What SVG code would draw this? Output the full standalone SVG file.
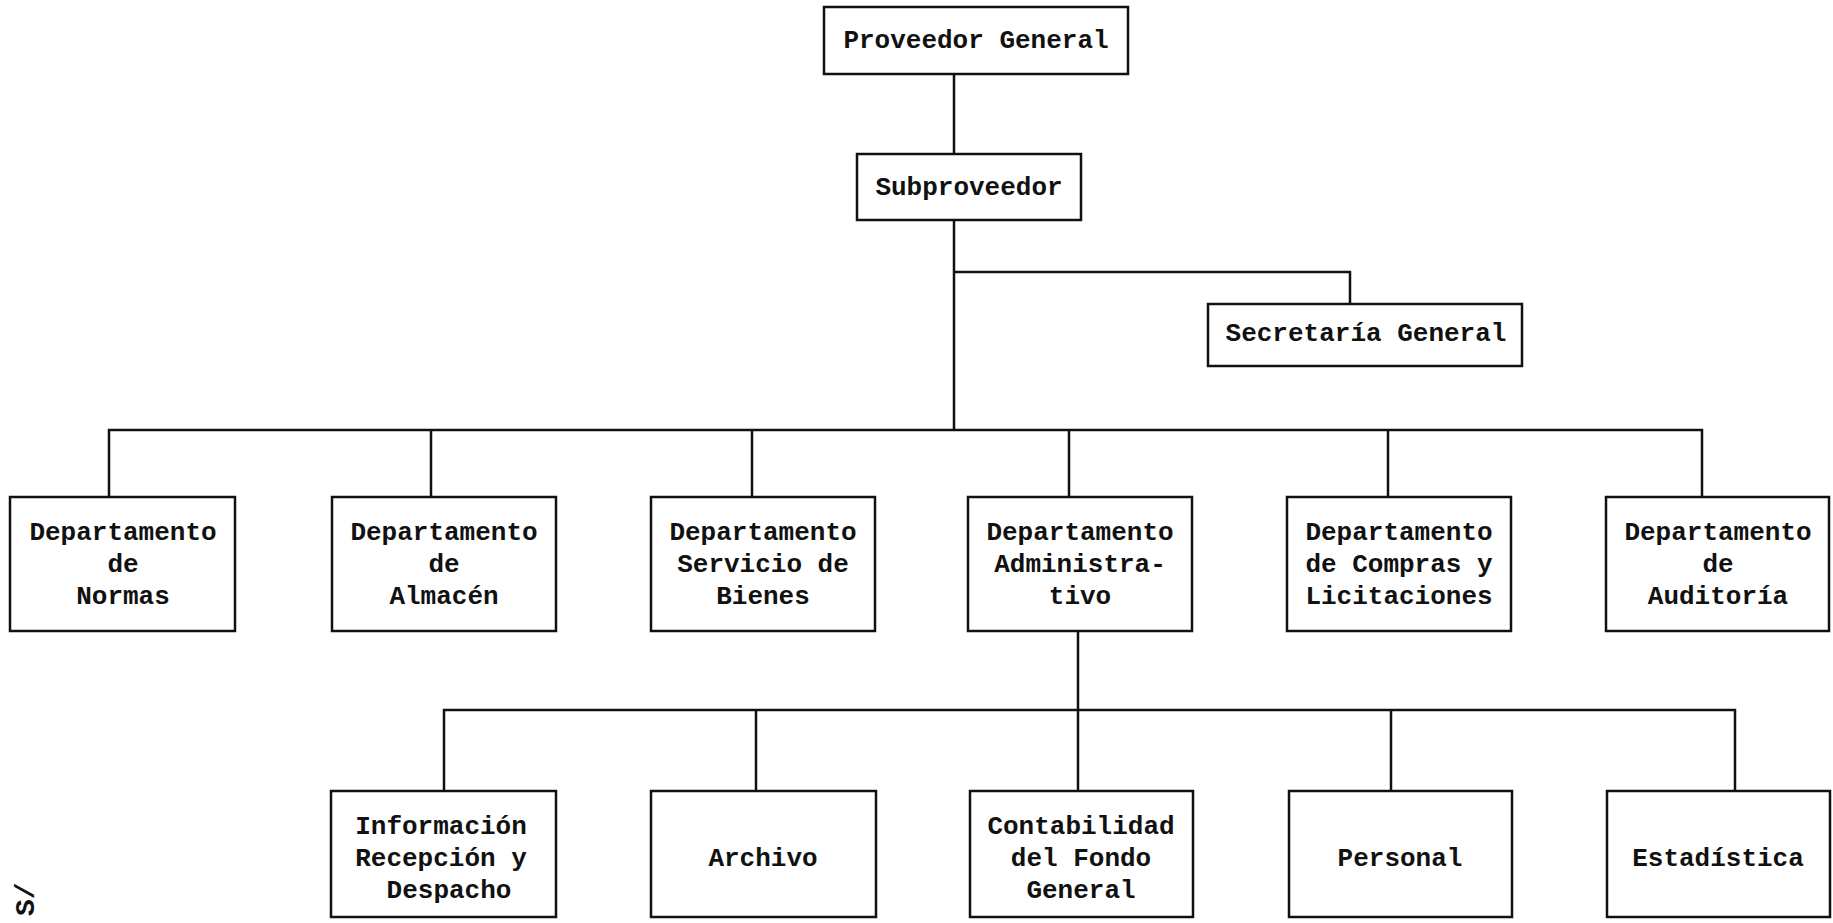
<svg xmlns="http://www.w3.org/2000/svg" width="1833" height="923" viewBox="0 0 1833 923">
<style>
.box{fill:#fff;stroke:#111;stroke-width:2.5}
.t{font-family:"Liberation Mono","DejaVu Sans Mono",monospace;font-size:26px;font-weight:bold;fill:#111;text-anchor:middle}
.c{fill:none;stroke:#111;stroke-width:2.5}
</style>
<rect width="1833" height="923" fill="#fff"/>
<g id="connectors" class="c">
<path d="M954 74V154"/>
<path d="M954 220V430"/>
<path d="M954 272H1350V304"/>
<path d="M109 497V430H1702V497"/>
<path d="M431 430V497"/>
<path d="M752 430V497"/>
<path d="M1069 430V497"/>
<path d="M1388 430V497"/>
<path d="M1078 631V710"/>
<path d="M444 791V710H1735V791"/>
<path d="M756 710V791"/>
<path d="M1078 710V791"/>
<path d="M1391 710V791"/>
</g>
<g id="proveedor"><rect class="box" x="824" y="7" width="304" height="67"/><text class="t" x="976" y="48">Proveedor General</text></g>
<g id="subproveedor"><rect class="box" x="857" y="154" width="224" height="66"/><text class="t" x="969" y="195">Subproveedor</text></g>
<g id="secretaria"><rect class="box" x="1208" y="304" width="314" height="62"/><text class="t" x="1366" y="341">Secretaría General</text></g>
<g id="normas"><rect class="box" x="10" y="497" width="225" height="134"/><text class="t" x="123" y="540">Departamento</text><text class="t" x="123" y="572">de</text><text class="t" x="123" y="604">Normas</text></g>
<g id="almacen"><rect class="box" x="332" y="497" width="224" height="134"/><text class="t" x="444" y="540">Departamento</text><text class="t" x="444" y="572">de</text><text class="t" x="444" y="604">Almacén</text></g>
<g id="servicio"><rect class="box" x="651" y="497" width="224" height="134"/><text class="t" x="763" y="540">Departamento</text><text class="t" x="763" y="572">Servicio de</text><text class="t" x="763" y="604">Bienes</text></g>
<g id="administrativo"><rect class="box" x="968" y="497" width="224" height="134"/><text class="t" x="1080" y="540">Departamento</text><text class="t" x="1080" y="572">Administra-</text><text class="t" x="1080" y="604">tivo</text></g>
<g id="compras"><rect class="box" x="1287" y="497" width="224" height="134"/><text class="t" x="1399" y="540">Departamento</text><text class="t" x="1399" y="572">de Compras y</text><text class="t" x="1399" y="604">Licitaciones</text></g>
<g id="auditoria"><rect class="box" x="1606" y="497" width="223" height="134"/><text class="t" x="1718" y="540">Departamento</text><text class="t" x="1718" y="572">de</text><text class="t" x="1718" y="604">Auditoría</text></g>
<g id="informacion"><rect class="box" x="331" y="791" width="225" height="126"/><text class="t" x="441" y="834">Información</text><text class="t" x="441" y="866">Recepción y</text><text class="t" x="449" y="898">Despacho</text></g>
<g id="archivo"><rect class="box" x="651" y="791" width="225" height="126"/><text class="t" x="763" y="866">Archivo</text></g>
<g id="contabilidad"><rect class="box" x="970" y="791" width="223" height="126"/><text class="t" x="1081" y="834">Contabilidad</text><text class="t" x="1081" y="866">del Fondo</text><text class="t" x="1081" y="898">General</text></g>
<g id="personal"><rect class="box" x="1289" y="791" width="223" height="126"/><text class="t" x="1400" y="866">Personal</text></g>
<g id="estadistica"><rect class="box" x="1607" y="791" width="223" height="126"/><text class="t" x="1718" y="866">Estadística</text></g>
<text class="t" transform="translate(34 916) rotate(-90)" style="font-size:28px;text-anchor:start">S/</text>
</svg>
